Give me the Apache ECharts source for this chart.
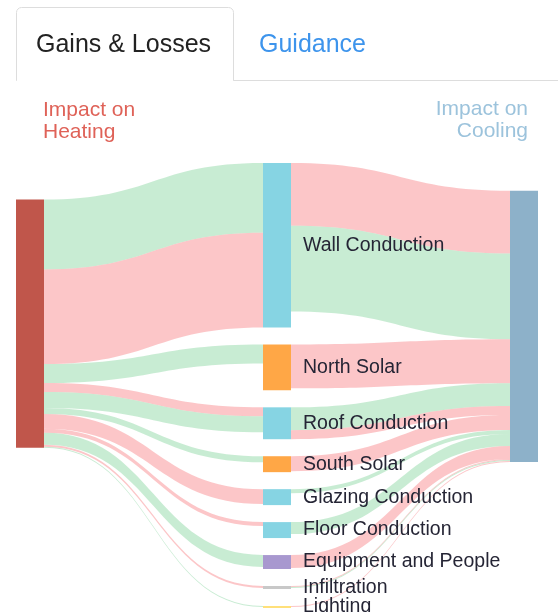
<!DOCTYPE html>
<html>
<head>
<meta charset="utf-8">
<script src="https://cdn.jsdelivr.net/npm/echarts@6/dist/echarts.min.js"></script>
<style>
  html, body { margin: 0; padding: 0; background: #fff; }
  #chart { width: 558px; height: 612px; }
</style>
</head>
<body>
<div id="chart"></div>
<script>
// data (roughly px-proportional units)
const components = ['Wall Conduction', 'North Solar', 'Roof Conduction', 'South Solar',
  'Glazing Conduction', 'Floor Conduction', 'Equipment and People', 'Infiltration', 'Lighting'];
const componentTotal = [164, 46, 32, 16, 16, 16, 14, 3, 2];
const heatingGain = [70, 19, 16, 6, 0, 0, 12, 0, 1];
const heatingLoss = [95, 0, 9, 0, 15, 4, 0, 2, 0];
const coolingGain = [86, 0, 23, 0, 4, 12, 0, 1, 0];
const coolingLoss = [63, 44, 9, 15, 0, 0, 13, 1, 1];
// which band sits on top where both exist
const heatingLossOnTop = ['Roof Conduction'];
const coolingGainOnTop = ['Roof Conduction'];

const nodeColors = {
  'Wall Conduction': '#86d4e3',
  'North Solar': '#ffa746',
  'Roof Conduction': '#86d4e3',
  'South Solar': '#ffa746',
  'Glazing Conduction': '#86d4e3',
  'Floor Conduction': '#86d4e3',
  'Equipment and People': '#a898cf',
  'Infiltration': '#c8c8c8',
  'Lighting': '#ffe07a'
};
const GAIN = 'rgb(146,218,168)';
const LOSS = 'rgb(250,142,146)';
const FONT = '"Liberation Sans", Arial, sans-serif';

const chart = echarts.init(document.getElementById('chart'));

let nodes = [
  { name: 'Heating', itemStyle: { color: '#c0564b' }, label: { show: false } }
];
components.forEach(function (c, i) {
  nodes.push({ name: c, value: componentTotal[i], itemStyle: { color: nodeColors[c] } });
});
nodes.push({ name: 'Cooling', itemStyle: { color: '#8db1c9' }, label: { show: false } });

let links = [];
function addPair(src, dst, first, second) {
  [first, second].forEach(function (p) {
    if (p.v > 0) {
      links.push({ source: src, target: dst, value: p.v, lineStyle: { color: p.c } });
    }
  });
}
components.forEach(function (c, i) {
  let g = { v: heatingGain[i], c: GAIN };
  let l = { v: heatingLoss[i], c: LOSS };
  if (heatingLossOnTop.includes(c)) addPair('Heating', c, l, g);
  else addPair('Heating', c, g, l);
});
components.forEach(function (c, i) {
  let g = { v: coolingGain[i], c: GAIN };
  let l = { v: coolingLoss[i], c: LOSS };
  if (coolingGainOnTop.includes(c)) addPair(c, 'Cooling', g, l);
  else addPair(c, 'Cooling', l, g);
});

let option = {
  animation: false,
  graphic: [
    {
      type: 'rect',
      shape: { x: 16.5, y: 7.5, width: 217, height: 73, r: [5, 5, 0, 0] },
      style: { fill: '#fff', stroke: '#dddddd', lineWidth: 1 }
    },
    {
      type: 'line',
      shape: { x1: 17, y1: 80.5, x2: 233, y2: 80.5 },
      style: { stroke: '#fff', lineWidth: 1 }
    },
    {
      type: 'line',
      shape: { x1: 233.5, y1: 80.5, x2: 558, y2: 80.5 },
      style: { stroke: '#dddddd', lineWidth: 1 }
    },
    {
      type: 'text', left: 36, top: 33,
      style: { text: 'Gains & Losses', fill: '#222', font: '25px ' + FONT }
    },
    {
      type: 'text', left: 259, top: 33,
      style: { text: 'Guidance', fill: '#3d94ec', font: '25px ' + FONT }
    },
    {
      type: 'text', left: 43, top: 99,
      style: { text: 'Impact on\nHeating', fill: '#df6258', lineHeight: 22, font: '21px ' + FONT }
    },
    {
      type: 'text', right: 30, top: 99,
      style: { text: 'Impact on', fill: '#9cc3dc', font: '21px ' + FONT }
    },
    {
      type: 'text', right: 30, top: 121,
      style: { text: 'Cooling', fill: '#9cc3dc', font: '21px ' + FONT }
    }
  ],
  series: [
    {
      type: 'sankey',
      left: 16,
      top: 163,
      width: 522,
      height: 445,
      nodeWidth: 28,
      nodeGap: 17,
      draggable: false,
      emphasis: { disabled: true },
      label: {
        show: true,
        position: 'right',
        distance: 12,
        color: '#252535',
        fontSize: 19.5,
        fontFamily: FONT
      },
      itemStyle: { borderWidth: 0 },
      lineStyle: { opacity: 0.5, curveness: 0.5 },
      data: nodes,
      links: links
    }
  ]
};
chart.setOption(option);
</script>
</body>
</html>
